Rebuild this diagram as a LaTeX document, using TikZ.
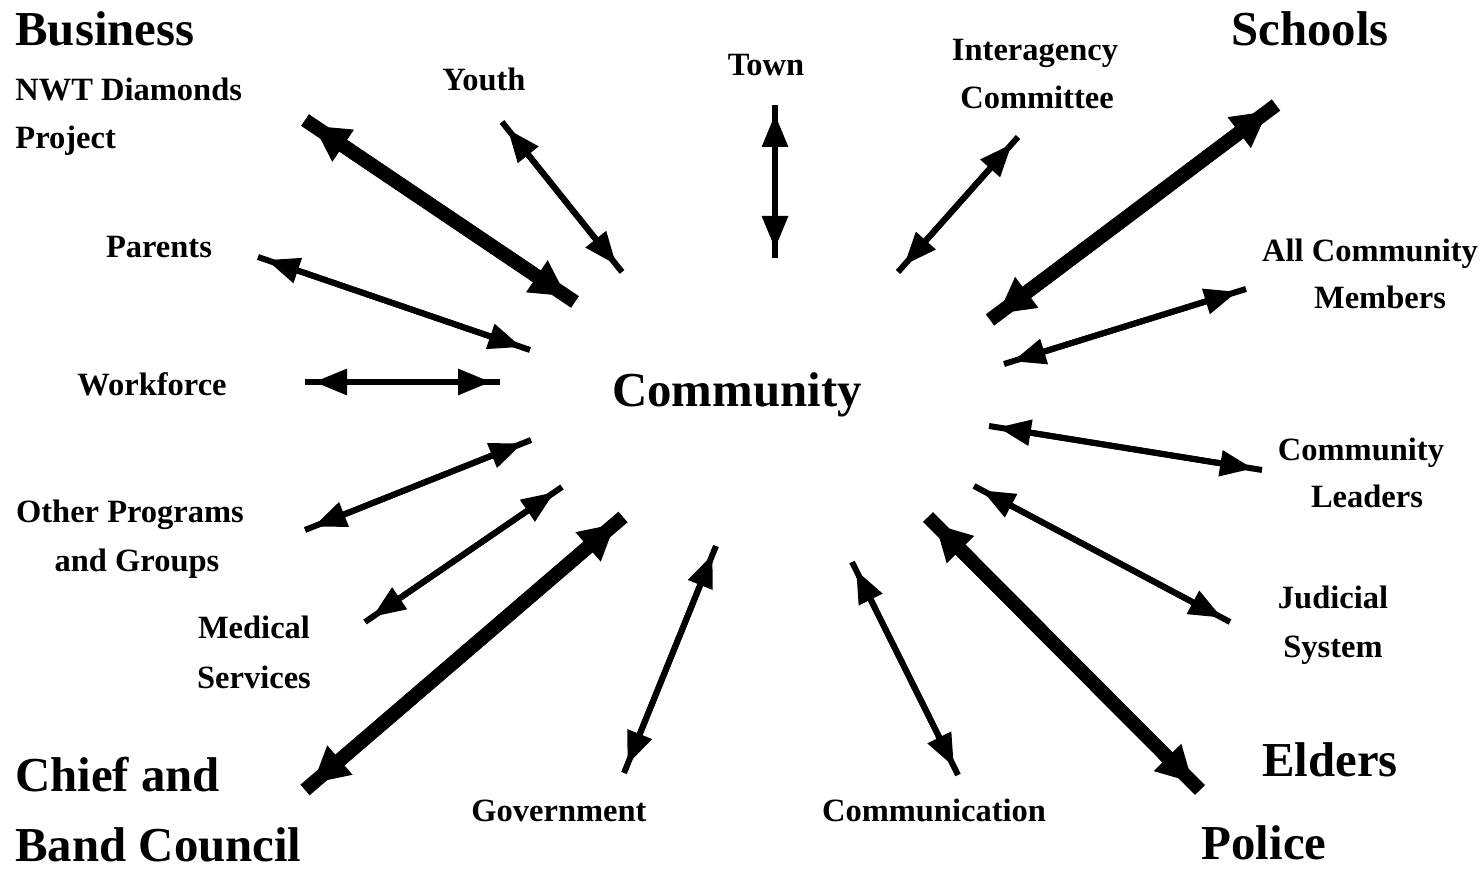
\documentclass[tikz,border=0pt]{standalone}
\usepackage{fontspec}
\setmainfont{Liberation Serif}
\usetikzlibrary{arrows.meta}
\begin{document}
\begin{tikzpicture}[x=0.5pt,y=-0.5pt,
  small/.style={font=\bfseries\fontsize{16.25}{19}\selectfont, anchor=base, inner sep=0pt},
  large/.style={font=\bfseries\fontsize{24.4}{29}\selectfont, anchor=base, inner sep=0pt},
  thinline/.style={line width=3pt},
  thinheads/.style={line width=3pt, {Triangle[length=16.5pt,width=12.5pt]}-{Triangle[length=16.5pt,width=12.5pt]},
                    shorten <=4.5pt, shorten >=4.5pt},
  thickline/.style={line width=7pt},
  thickheads/.style={line width=7pt, {Triangle[length=18pt,width=18pt]}-{Triangle[length=18pt,width=18pt]},
                    shorten <=5pt, shorten >=5pt}]
\useasboundingbox (0,0) rectangle (1484,870);

% labels
\node[large, anchor=base west] (business) at (15,46) {Business};
\node[small, anchor=base west] (nwt1) at (15,101) {NWT Diamonds};
\node[small, anchor=base west] (nwt2) at (15,149) {Project};
\node[small] (youth) at (484,91) {Youth};
\node[small] (town) at (766,76) {Town};
\node[small] (inter1) at (1035,61) {Interagency};
\node[small] (inter2) at (1037,109) {Committee};
\node[large] (schools) at (1310,46) {Schools};
\node[small] (parents) at (159,258) {Parents};
\node[small] (allc1) at (1370,262) {All Community};
\node[small] (allc2) at (1380,309) {Members};
\node[small] (workforce) at (152,396) {Workforce};
\node[large] (community) at (737,407) {Community};
\node[small] (lead1) at (1361,461) {Community};
\node[small] (lead2) at (1367,508) {Leaders};
\node[small] (other1) at (130,523) {Other Programs};
\node[small] (other2) at (137,572) {and Groups};
\node[small] (med1) at (254,639) {Medical};
\node[small] (med2) at (254,689) {Services};
\node[small] (jud1) at (1333,609) {Judicial};
\node[small] (jud2) at (1333,658) {System};
\node[large, anchor=base west] (chief1) at (15,792) {Chief and};
\node[large, anchor=base west] (chief2) at (15,862) {Band Council};
\node[large] (elders) at (1330,777) {Elders};
\node[small] (government) at (559,822) {Government};
\node[small] (communication) at (934,822) {Communication};
\node[large] (police) at (1264,860) {Police};

% connector end points
\coordinate (bizA) at (305,120);   \coordinate (bizB) at (575,302);
\coordinate (youA) at (502,122);   \coordinate (youB) at (622,272);
\coordinate (towA) at (775,105);   \coordinate (towB) at (775,258);
\coordinate (intA) at (1018,137);  \coordinate (intB) at (898,272);
\coordinate (schA) at (1276,105);  \coordinate (schB) at (990,320);
\coordinate (parA) at (258,257);   \coordinate (parB) at (530,350);
\coordinate (allA) at (1246,289);  \coordinate (allB) at (1004,364);
\coordinate (worA) at (305,382);   \coordinate (worB) at (500,382);
\coordinate (leaA) at (989,426);   \coordinate (leaB) at (1262,470);
\coordinate (othA) at (305,530);   \coordinate (othB) at (531,440);
\coordinate (medA) at (365,622);   \coordinate (medB) at (562,487);
\coordinate (judA) at (974,486);   \coordinate (judB) at (1230,622);
\coordinate (chiA) at (305,790);   \coordinate (chiB) at (623,517);
\coordinate (govA) at (624,773);   \coordinate (govB) at (716,546);
\coordinate (comA) at (852,562);   \coordinate (comB) at (958,775);
\coordinate (polA) at (928,517);   \coordinate (polB) at (1200,790);

% two-way links
\foreach \a/\b in {youA/youB, towA/towB, intA/intB, parA/parB, allA/allB,
                   worA/worB, leaA/leaB, othA/othB, medA/medB, judA/judB,
                   govA/govB, comA/comB} {
  \draw[thinline] (\a) -- (\b);
  \draw[thinheads] (\a) -- (\b);
}
\foreach \a/\b in {bizA/bizB, schA/schB, chiA/chiB, polA/polB} {
  \draw[thickline] (\a) -- (\b);
  \draw[thickheads] (\a) -- (\b);
}
\end{tikzpicture}
\end{document}
